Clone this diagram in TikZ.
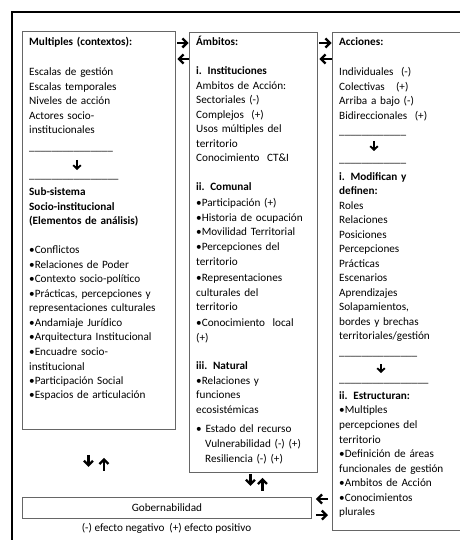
\documentclass[tikz,border=0pt]{standalone}
\usepackage{fontspec}
\setmainfont{Carlito}
\usetikzlibrary{arrows.meta}
\newcommand{\guiones}[1]{\foreach \g in {1,...,#1}{\_}}
\begin{document}
\begin{tikzpicture}[x=1pt,y=-1pt]
			\tikzstyle{caja}=[draw=black!60,line width=0.9pt,anchor=north west,inner sep=0pt,font=\fontsize{11.2}{14.5}\selectfont]
			\tikzstyle{texto}=[anchor=base west,inner sep=0pt,align=left,font=\fontsize{11.2}{14.5}\selectfont]
			\tikzstyle{flecha}=[line width=2.3pt,-{Straight Barb[length=4.5pt,width=9pt]}]
			\tikzstyle{flechita}=[line width=1.9pt,-{Straight Barb[length=3.5pt,width=7.5pt]}]
			\useasboundingbox (0,0) rectangle (459,540);
			\draw[line width=2.4pt] (12,580) -- (12,12) -- (500,12);
			% cajas
			\node[caja,minimum width=153pt,minimum height=398pt] (contextos) at (22,31) {};
			\node[caja,minimum width=128pt,minimum height=440pt] (ambitos) at (189,32) {};
			\node[caja,minimum width=160pt,minimum height=498pt] (acciones) at (332,32) {};
			\node[caja,minimum width=289pt,minimum height=21pt] (gobernabilidad) at (22,497) {Gobernabilidad};
			% textos
			\node[texto,text width=148pt] (txtcontextos) at (29,46) {\textbf{Multiples (contextos):}\\[15.5pt]
				Escalas de gestión\\ Escalas temporales\\ Niveles de acción\\ Actores socio-\\ institucionales\\[2.5pt]
				\guiones{15}\\[13.5pt]
				\guiones{16}\\[2.5pt]
				\textbf{Sub-sistema}\\ \textbf{Socio-institucional}\\ \textbf{(Elementos de análisis)}\\[14.5pt]
				•Conflictos\\ •Relaciones de Poder\\ •Contexto socio-político\\ •Prácticas, percepciones y\\ representaciones culturales\\
				•Andamiaje Jurídico\\ •Arquitectura Institucional\\ •Encuadre socio-\\ institucional\\ •Participación Social\\ •Espacios de articulación};
			\node[texto,text width=120pt] (txtambitos) at (196,46) {\textbf{Ámbitos:}\\[14.5pt]
				\textbf{i. Instituciones}\\ Ambitos de Acción:\\ Sectoriales (-)\\ Complejos~ (+)\\ Usos múltiples del\\ territorio\\ Conocimiento~ CT\&I\\[14pt]
				\textbf{ii. Comunal}\\[1.5pt] •Participación (+)\\[0.5pt] •Historia de ocupación\\ •Movilidad Territorial\\ •Percepciones del\\[0.5pt] territorio\\[1.5pt]
				•Representaciones\\[0.5pt] culturales del\\ territorio\\[1.5pt] •Conocimiento~ local\\ (+)\\[13.5pt]
				\textbf{iii. Natural}\\[0.5pt] •Relaciones y\\ funciones\\[0.5pt] ecosistémicas\\[4.5pt] • Estado del recurso\\[0.5pt]
				\hspace*{9pt}Vulnerabilidad (-) (+)\\ \hspace*{9pt}Resiliencia (-) (+)};
			\node[texto,text width=118pt] (txtacciones) at (339,46) {\textbf{Acciones:}\\[15.5pt]
				Individuales~ (-)\\ Colectivas~~ (+)\\ Arriba a bajo (-)\\ Bidireccionales~ (+)\\[0.5pt]
				\guiones{12}\\[13.5pt]
				\guiones{12}\\[3.5pt]
				\textbf{i. Modifican y}\\ \textbf{definen:}\\ Roles\\ Relaciones\\ Posiciones\\ Percepciones\\ Prácticas\\ Escenarios\\ Aprendizajes\\
				Solapamientos,\\ bordes y brechas\\ territoriales/gestión\\[1pt]
				\guiones{14}\\[12.5pt]
				\guiones{16}\\[2.5pt]
				\textbf{ii. Estructuran:}\\ •Multiples\\ percepciones del\\ territorio\\ •Definición de áreas\\ funcionales de gestión\\
				•Ambitos de Acción\\ •Conocimientos\\ plurales};
			\node[texto,anchor=base] (leyenda) at (166.5,531) {(-) efecto negativo~ (+) efecto positivo};
			% flechas entre cajas
			\coordinate (nivelA) at (0,43);
			\coordinate (nivelB) at (0,59);
			\coordinate (nivelC) at (0,499);
			\coordinate (nivelD) at (0,515);
			\draw[flecha,shorten <=1.5pt,shorten >=0.5pt] (contextos.east |- nivelA) -- (ambitos.west |- nivelA);
			\draw[flecha,shorten <=0.5pt,shorten >=1.5pt] (ambitos.west |- nivelB) -- (contextos.east |- nivelB);
			\draw[flecha,shorten <=1.5pt,shorten >=0.5pt] (ambitos.east |- nivelA) -- (acciones.west |- nivelA);
			\draw[flecha,shorten <=0.5pt,shorten >=1.5pt] (acciones.west |- nivelB) -- (ambitos.east |- nivelB);
			\draw[flecha,shorten <=4pt,shorten >=4pt] (acciones.west |- nivelC) -- (gobernabilidad.east |- nivelC);
			\draw[flecha,shorten <=4pt,shorten >=4pt] (gobernabilidad.east |- nivelD) -- (acciones.west |- nivelD);
			% flechas verticales
			\draw[flecha] ([xshift=-10.5pt,yshift=-25pt]contextos.south) -- ([xshift=-10.5pt,yshift=-37pt]contextos.south);
			\draw[flecha] ([xshift=5pt,yshift=-41pt]contextos.south) -- ([xshift=5pt,yshift=-28pt]contextos.south);
			\draw[flecha] ([xshift=-3pt,yshift=-1pt]ambitos.south) -- ([xshift=-3pt,yshift=-13pt]ambitos.south);
			\draw[flecha] ([xshift=9pt,yshift=-18pt]ambitos.south) -- ([xshift=9pt,yshift=-5pt]ambitos.south);
			\draw[flechita] ([xshift=55pt,yshift=-129pt]contextos.north west) -- ([xshift=55pt,yshift=-139pt]contextos.north west);
			\draw[flechita] ([xshift=42pt,yshift=-109pt]acciones.north west) -- ([xshift=42pt,yshift=-119pt]acciones.north west);
			\draw[flechita] ([xshift=49pt,yshift=-332pt]acciones.north west) -- ([xshift=49pt,yshift=-341pt]acciones.north west);
		\end{tikzpicture}
\end{document}
